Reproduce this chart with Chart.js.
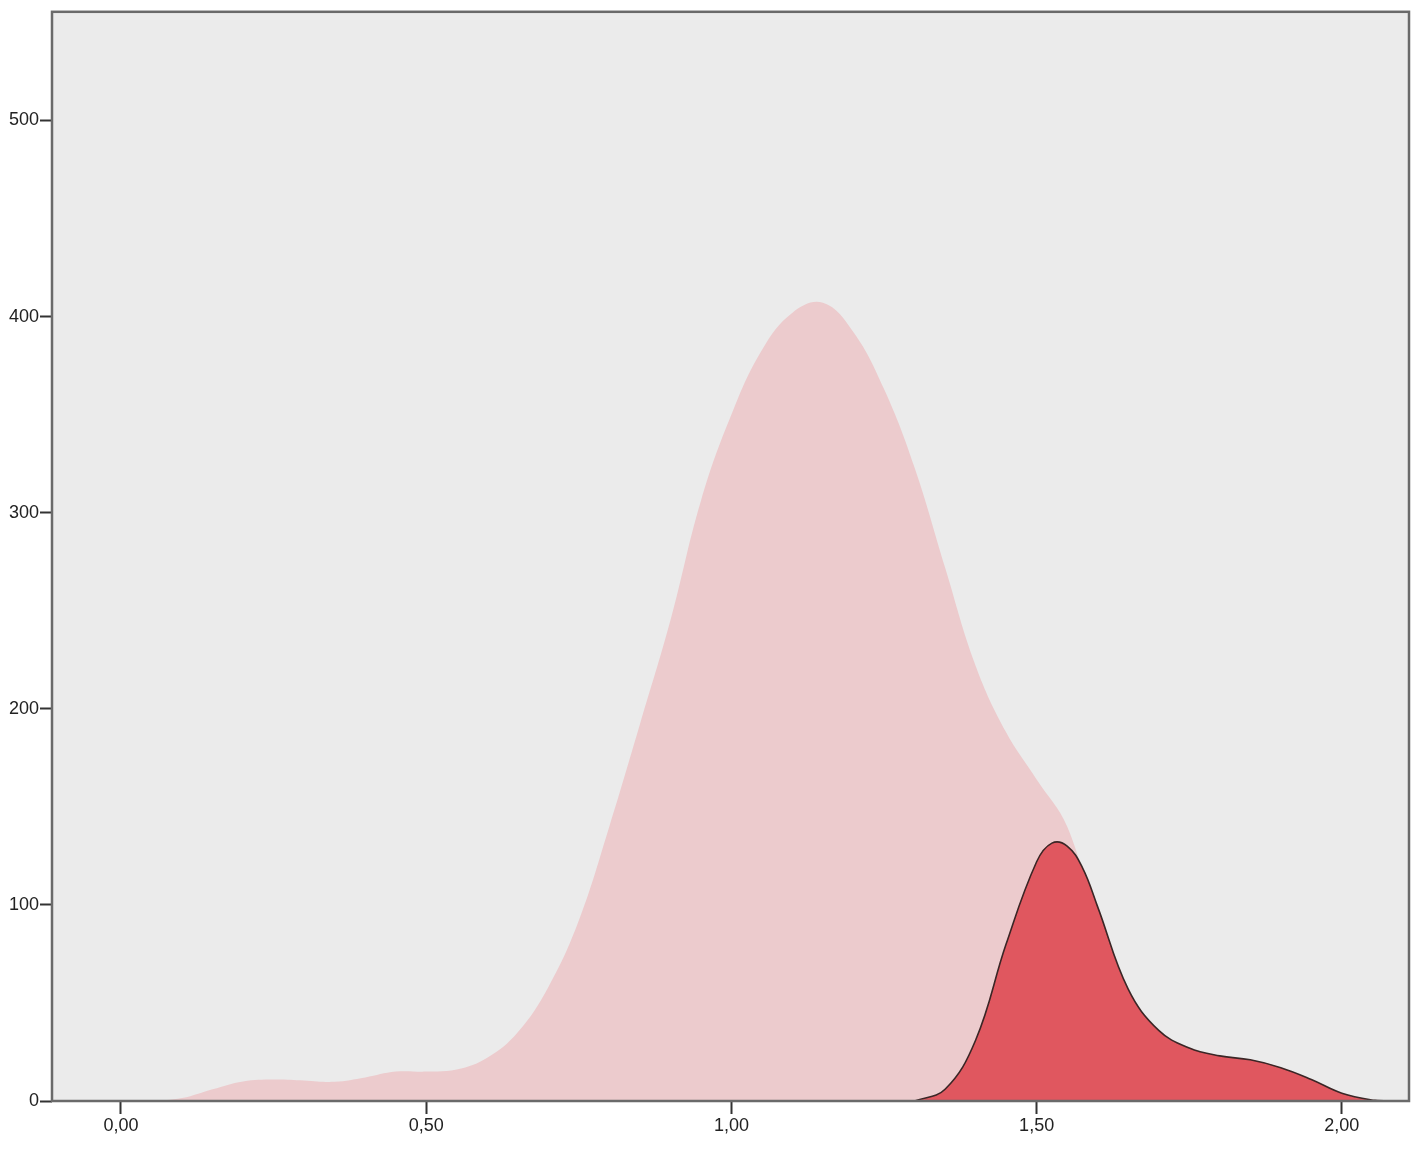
<!DOCTYPE html>
<html>
<head>
<meta charset="utf-8">
<script src="https://cdn.jsdelivr.net/npm/chart.js@4/dist/chart.umd.min.js"></script>
<style>
  html, body { margin: 0; padding: 0; background: #ffffff; }
  #wrap { width: 1419px; height: 1155px; }
</style>
</head>
<body>
<div id="wrap"><canvas id="chart" width="1419" height="1155"></canvas></div>
<script>
// light (all) density curve
const allX = [0.05, 0.10, 0.15, 0.20, 0.25, 0.30, 0.35, 0.40, 0.45, 0.50, 0.55, 0.60, 0.65, 0.70, 0.75, 0.80, 0.85, 0.90, 0.95, 1.00, 1.05, 1.10, 1.15, 1.20, 1.25, 1.30, 1.35, 1.40, 1.45, 1.50, 1.55, 1.60, 1.65, 1.70, 1.75, 1.80, 1.85, 1.90, 1.95, 2.00, 2.05];
const allY = [0, 1.5, 6, 10, 11, 10.5, 9.8, 12, 15, 15, 16, 22, 35, 58, 92, 140, 192, 245, 306, 350, 383, 402, 407, 392, 363, 323, 272, 222, 188, 164, 140, 90, 50, 30, 22, 19, 17, 13, 7, 2, 0];

// dark (subgroup) density curve
const subX = [1.30, 1.35, 1.40, 1.45, 1.50, 1.525, 1.55, 1.575, 1.60, 1.65, 1.70, 1.75, 1.80, 1.85, 1.90, 1.95, 2.00, 2.05, 2.08];
const subY = [0, 6, 31, 80, 122, 131.5, 130, 119, 99, 57, 36, 27, 23, 21, 17, 11, 4, 0.5, 0];

const xTicks = [0, 0.5, 1.0, 1.5, 2.0];
const yTicks = [0, 100, 200, 300, 400, 500];

function pts(xs, ys){
  return xs.map((x, i) => ({ x: x, y: ys[i] }));
}

/* background + frame */
const frame = {
  id: "frame",
  beforeDatasetsDraw(c){
    const a = c.chartArea, ctx = c.ctx;
    ctx.save();
    ctx.fillStyle = "#ebebeb";
    ctx.fillRect(a.left, a.top, a.right - a.left, a.bottom - a.top);
    ctx.restore();
  },
  afterDraw(c){
    const a = c.chartArea, ctx = c.ctx;
    ctx.save();
    ctx.strokeStyle = "#6a6a6a";
    ctx.lineWidth = 2.5;
    ctx.strokeRect(a.left, a.top, a.right - a.left, a.bottom - a.top);
    ctx.restore();
  }
};

new Chart(document.getElementById("chart"), {
  type: "line",
  data: {
    datasets: [
      {
        data: pts(subX, subY),
        order: 0,
        borderColor: "#3b2626",
        borderWidth: 1.6,
        backgroundColor: "#e0575f",
        fill: "origin",
        pointRadius: 0,
        tension: 0.4
      },
      {
        data: pts(allX, allY),
        order: 1,
        borderWidth: 0,
        borderColor: "rgba(0,0,0,0)",
        backgroundColor: "#eccbcd",
        fill: "origin",
        pointRadius: 0,
        tension: 0.4
      }
    ]
  },
  options: {
    responsive: false,
    animation: false,
    layout: { padding: { top: 9, right: 10, left: 0, bottom: 0 } },
    plugins: { legend: { display: false }, tooltip: { enabled: false } },
    scales: {
      x: {
        type: "linear",
        min: -0.113,
        max: 2.110,
        afterBuildTicks: s => { s.ticks = xTicks.map(v => ({ value: v })); },
        afterFit: s => { s.height = 54; },
        grid: { drawOnChartArea: false, drawTicks: true, tickLength: 13, tickColor: "#333", tickWidth: 2 },
        border: { display: false },
        ticks: {
          color: "#222",
          font: { family: "Liberation Sans, Arial", size: 18 },
          padding: 1,
          maxRotation: 0,
          callback: v => v.toFixed(2).replace(".", ",")
        }
      },
      y: {
        type: "linear",
        min: 0,
        max: 555.4,
        afterBuildTicks: s => { s.ticks = yTicks.map(v => ({ value: v })); },
        afterFit: s => { s.width = 52; },
        grid: { drawOnChartArea: false, drawTicks: true, tickLength: 12, tickColor: "#333", tickWidth: 2 },
        border: { display: false },
        ticks: {
          color: "#222",
          font: { family: "Liberation Sans, Arial", size: 18 },
          padding: 1,
          callback: v => String(v)
        }
      }
    }
  },
  plugins: [frame]
});
</script>
</body>
</html>
